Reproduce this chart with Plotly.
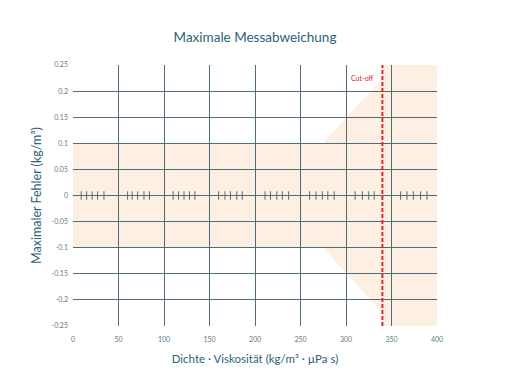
import plotly.graph_objects as go

# --- data ---
x_ticks = [0, 50, 100, 150, 200, 250, 300, 350, 400]
y_ticks = [-0.25, -0.2, -0.15, -0.1, -0.05, 0, 0.05, 0.1, 0.15, 0.2, 0.25]
y_tick_labels = ["-0.25", "-0.2", "-0.15", "-0.1", "-0.05", "0", "0.05", "0.1", "0.15", "0.2", "0.25"]

envelope_x = [0, 275, 340]          # where the error band changes
envelope_upper = [0.1, 0.1, 0.225]  # upper limit (symmetric below)
cutoff_x = 340
y_limit = 0.25
x_limit = 400

minor_marks_x = [9, 15, 21, 27, 34,
                 60, 65, 71, 78, 84,
                 110, 116, 122, 128, 134,
                 160, 167, 173, 180, 186,
                 211, 217, 224, 230, 237,
                 260, 267, 274, 280, 287,
                 310, 318, 325, 331,
                 360, 367, 374, 382, 389]

GRID = "#4f6d79"
TEXT = "#2e6275"
TICKTXT = "#5f7a86"
FILL = "#fdf0e2"
RED = "#e1252f"
FONT = "Lato, 'Open Sans', sans-serif"

# band polygon path built from the data
pts = list(zip(envelope_x, envelope_upper))
pts += [(cutoff_x, y_limit), (x_limit, y_limit), (x_limit, -y_limit), (cutoff_x, -y_limit)]
pts += [(x, -y) for x, y in reversed(list(zip(envelope_x, envelope_upper)))]
path = "M " + " L ".join(f"{x},{y}" for x, y in pts) + " Z"

fig = go.Figure()
fig.add_trace(go.Scatter(
    x=minor_marks_x, y=[0] * len(minor_marks_x), mode="markers",
    marker=dict(symbol="line-ns", size=6, line=dict(width=1, color=GRID)),
    hoverinfo="skip", showlegend=False))

fig.add_shape(type="path", path=path, fillcolor=FILL, line=dict(width=0),
              layer="below", xref="x", yref="y")
fig.add_shape(type="line", x0=cutoff_x, x1=cutoff_x, y0=-y_limit, y1=y_limit,
              xref="x", yref="y", line=dict(color=RED, width=2, dash="4px,2px"),
              layer="above")
fig.add_annotation(x=cutoff_x, y=0.225, xref="x", yref="y", text="Cut-off",
                   showarrow=False, xanchor="right", xshift=-6,
                   font=dict(family=FONT, size=7, color=RED))

fig.update_layout(
    width=510, height=384,
    margin=dict(l=65, r=81, t=57, b=66),
    paper_bgcolor="white", plot_bgcolor="white",
    font=dict(family=FONT, color=TEXT),
    title=dict(text="Maximale Messabweichung", x=0.5, xanchor="center", xref="paper",
               y=1 - 29 / 384, yanchor="middle",
               font=dict(family=FONT, size=13.5, color=TEXT)),
    showlegend=False,
)
fig.update_xaxes(range=[0, x_limit], tickvals=x_ticks, showgrid=True,
                 gridcolor=GRID, gridwidth=1, zeroline=False, showline=False,
                 ticks="", tickfont=dict(family=FONT, size=7, color=TICKTXT),
                 ticklabelstandoff=8,
                 title=dict(text="Dichte · Viskosität (kg/m³ · µPa s)", standoff=12,
                            font=dict(family=FONT, size=11.5, color=TEXT)))
fig.update_yaxes(range=[-y_limit, y_limit], tickvals=y_ticks, ticktext=y_tick_labels,
                 showgrid=True, gridcolor=GRID, gridwidth=1, zeroline=False,
                 showline=False, ticks="", ticklabelstandoff=4,
                 tickfont=dict(family=FONT, size=7, color=TICKTXT),
                 title=dict(text="Maximaler Fehler (kg/m³)", standoff=7,
                            font=dict(family=FONT, size=12.5, color=TEXT)))

fig.write_html("out.html")
